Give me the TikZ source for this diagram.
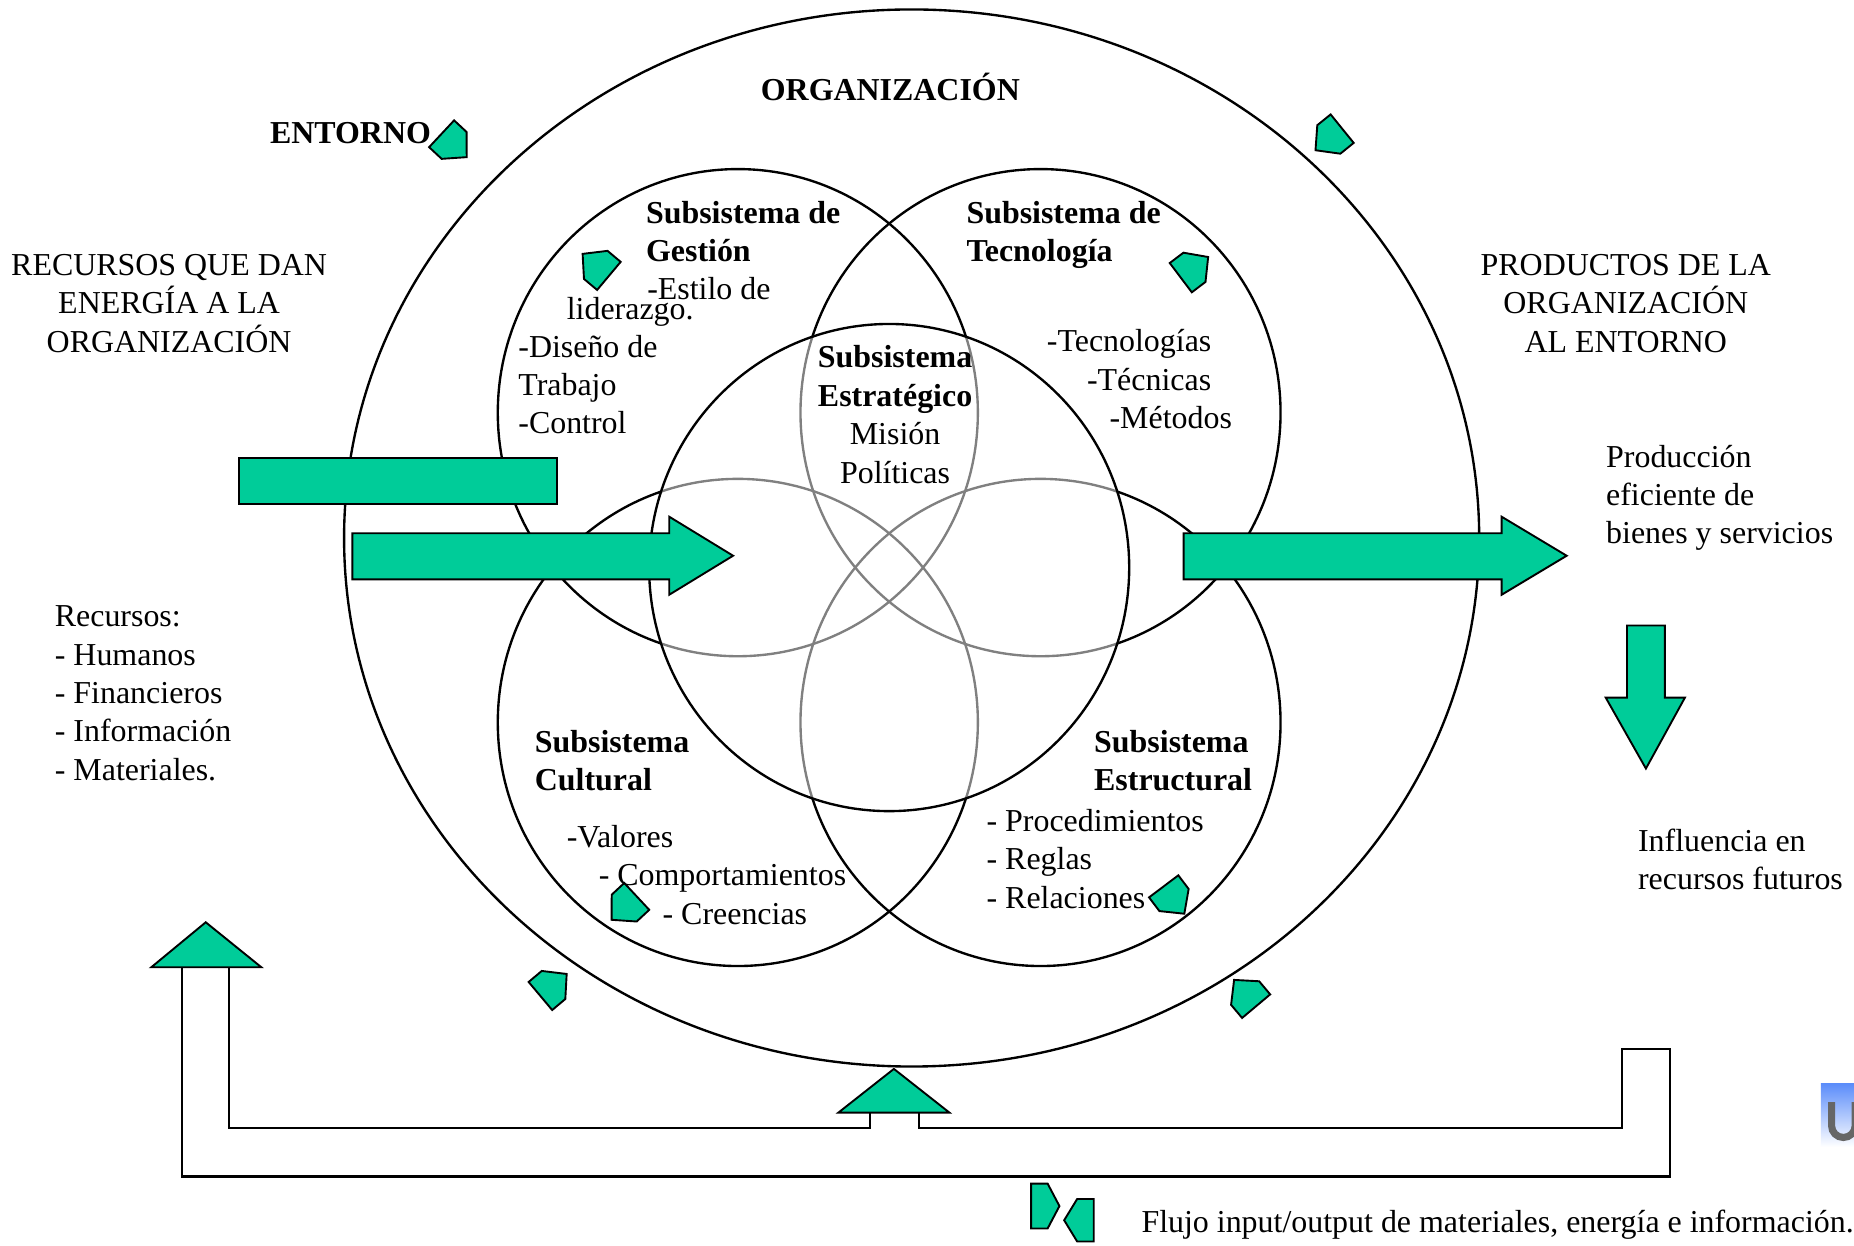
\documentclass[tikz,border=0pt]{standalone}
\usepackage{fontspec}
\setmainfont{Liberation Serif}
\definecolor{arrowgreen}{RGB}{0,204,153}
\begin{document}
\begin{tikzpicture}[x=0.5pt,y=-0.5pt]
\tikzset{
  lbl/.style={font=\fontsize{13.5}{16.25}\selectfont, inner sep=0pt, anchor=base west, align=left},
  blbl/.style={lbl, font=\fontsize{13.5}{16.25}\selectfont\bfseries},
  lblc/.style={lbl, anchor=base, align=center},
  blblc/.style={blbl, anchor=base, align=center},
  ring/.style={draw=black, line width=1pt},
  garrow/.style={fill=arrowgreen, draw=black, line width=0.8pt, line join=miter},
  flowline/.style={draw=black, line width=0.9pt}
}
\newcommand\flowicon[3]{\draw[garrow, shift={(#1,#2)}, rotate=#3] (-13,-15.5) -- (1.5,-15.5) -- (16,0) -- (1.5,15.5) -- (-13,15.5) -- cycle;}
\useasboundingbox (0,0) rectangle (1568,1053);
\fill[white] (0,0) rectangle (1568,1053);

% four subsystem circles
\draw[ring] (624,349) ellipse [x radius=203, y radius=206];
\draw[ring] (880,349) ellipse [x radius=203, y radius=206];
\draw[ring] (624,611) ellipse [x radius=203, y radius=206];
\draw[ring] (880,611) ellipse [x radius=203, y radius=206];
% strategic circle with translucent fill
\fill[white, fill opacity=0.5] (752,480) ellipse [x radius=203, y radius=206];
\draw[ring] (752,480) ellipse [x radius=203, y radius=206];
% organisation
\draw[ring] (771,455) ellipse [x radius=480, y radius=447];

% big arrows
\draw[garrow] (202,387) rectangle (471,426);
\draw[garrow] (298,451) -- (566,451) -- (566,437) -- (620,470) -- (566,503) -- (566,490) -- (298,490) -- cycle;
\draw[garrow] (1001,451) -- (1270,451) -- (1270,437) -- (1325,470) -- (1270,503) -- (1270,490) -- (1001,490) -- cycle;
\draw[garrow] (1376,529) -- (1408,529) -- (1408,590) -- (1425,590) -- (1392,650) -- (1358,590) -- (1376,590) -- cycle;

% feedback outline arrow
\draw[garrow] (128,818) -- (174,780) -- (221,818) -- cycle;
\draw[garrow] (709,941) -- (756,904) -- (803,941) -- cycle;
\draw[flowline] (154,818) -- (154,995) -- (1412,995) -- (1412,887) -- (1372,887) -- (1372,954) -- (777,954) -- (777,941);
\draw[flowline] (194,818) -- (194,954) -- (736,954) -- (736,941);

% small flow icons
\flowicon{383}{122}{-43}
\flowicon{1125}{117}{-141}
\flowicon{505}{225}{140}
\flowicon{1009}{227}{37}
\flowicon{529}{767}{223}
\flowicon{992}{760}{-53}
\flowicon{467}{834}{40}
\flowicon{1054}{841}{130}
% legend icons
\draw[garrow] (872,1001) -- (886,1001) -- (896,1020) -- (886,1039) -- (872,1039) -- cycle;
\draw[garrow] (925,1014) -- (911,1014) -- (900,1032) -- (911,1050) -- (925,1050) -- cycle;

% partial logo at right edge
\shade[top color={rgb,255:red,90;green,140;blue,250}, bottom color=white] (1540,916) rectangle (1568,970);
\draw[gray!80!black, line width=3pt] (1549,932) -- (1549,952) arc[start angle=180, end angle=360, x radius=10, y radius=-10] -- (1569,932);

% texts (multi-line nodes anchored at the baseline of their last line)
\node[blblc] (org) at (753,85) {ORGANIZACIÓN};
\node[blbl] (ent) at (228,121) {ENTORNO};
\node[lblc] (rec) at (143,298) {RECURSOS QUE DAN\\ENERGÍA A LA\\ORGANIZACIÓN};
\node[lblc] (prod) at (1375,298) {PRODUCTOS DE LA\\ORGANIZACIÓN\\AL ENTORNO};
\node[blbl] (gest) at (546,221.5) {Subsistema de\\Gestión};
\node[lbl] (est) at (547,253) {-Estilo de};
\node[lbl] (lid) at (479,270) {liderazgo.};
\node[lbl] (dis) at (438,367) {-Diseño de\\Trabajo\\-Control};
\node[blbl] (tec) at (817,221.5) {Subsistema de\\Tecnología};
\node[lbl] (tec1) at (885,297) {-Tecnologías};
\node[lbl] (tec2) at (919,330) {-Técnicas};
\node[lbl] (tec3) at (938,362) {-Métodos};
\node[blblc] (estr) at (757,343.5) {Subsistema\\Estratégico};
\node[lblc] (mis) at (757,408.5) {Misión\\Políticas};
\node[lbl] (pro) at (1358,460) {Producción\\eficiente de\\bienes y servicios};
\node[lbl] (recu) at (46,660) {Recursos:\\- Humanos\\- Financieros\\- Información\\- Materiales.};
\node[blbl] (cul) at (452,668.5) {Subsistema\\Cultural};
\node[lbl] (cul1) at (479,717) {-Valores};
\node[lbl] (cul2) at (506,749) {- Comportamientos};
\node[lbl] (cul3) at (560,782) {- Creencias};
\node[blbl] (estc) at (925,668.5) {Subsistema\\Estructural};
\node[lbl] (estc1) at (834,768) {- Procedimientos\\- Reglas\\- Relaciones};
\node[lbl] (inf) at (1385,752.5) {Influencia en\\recursos futuros};
\node[lbl] (flujo) at (965,1042) {Flujo input/output de materiales, energía e información.};
\end{tikzpicture}
\end{document}
